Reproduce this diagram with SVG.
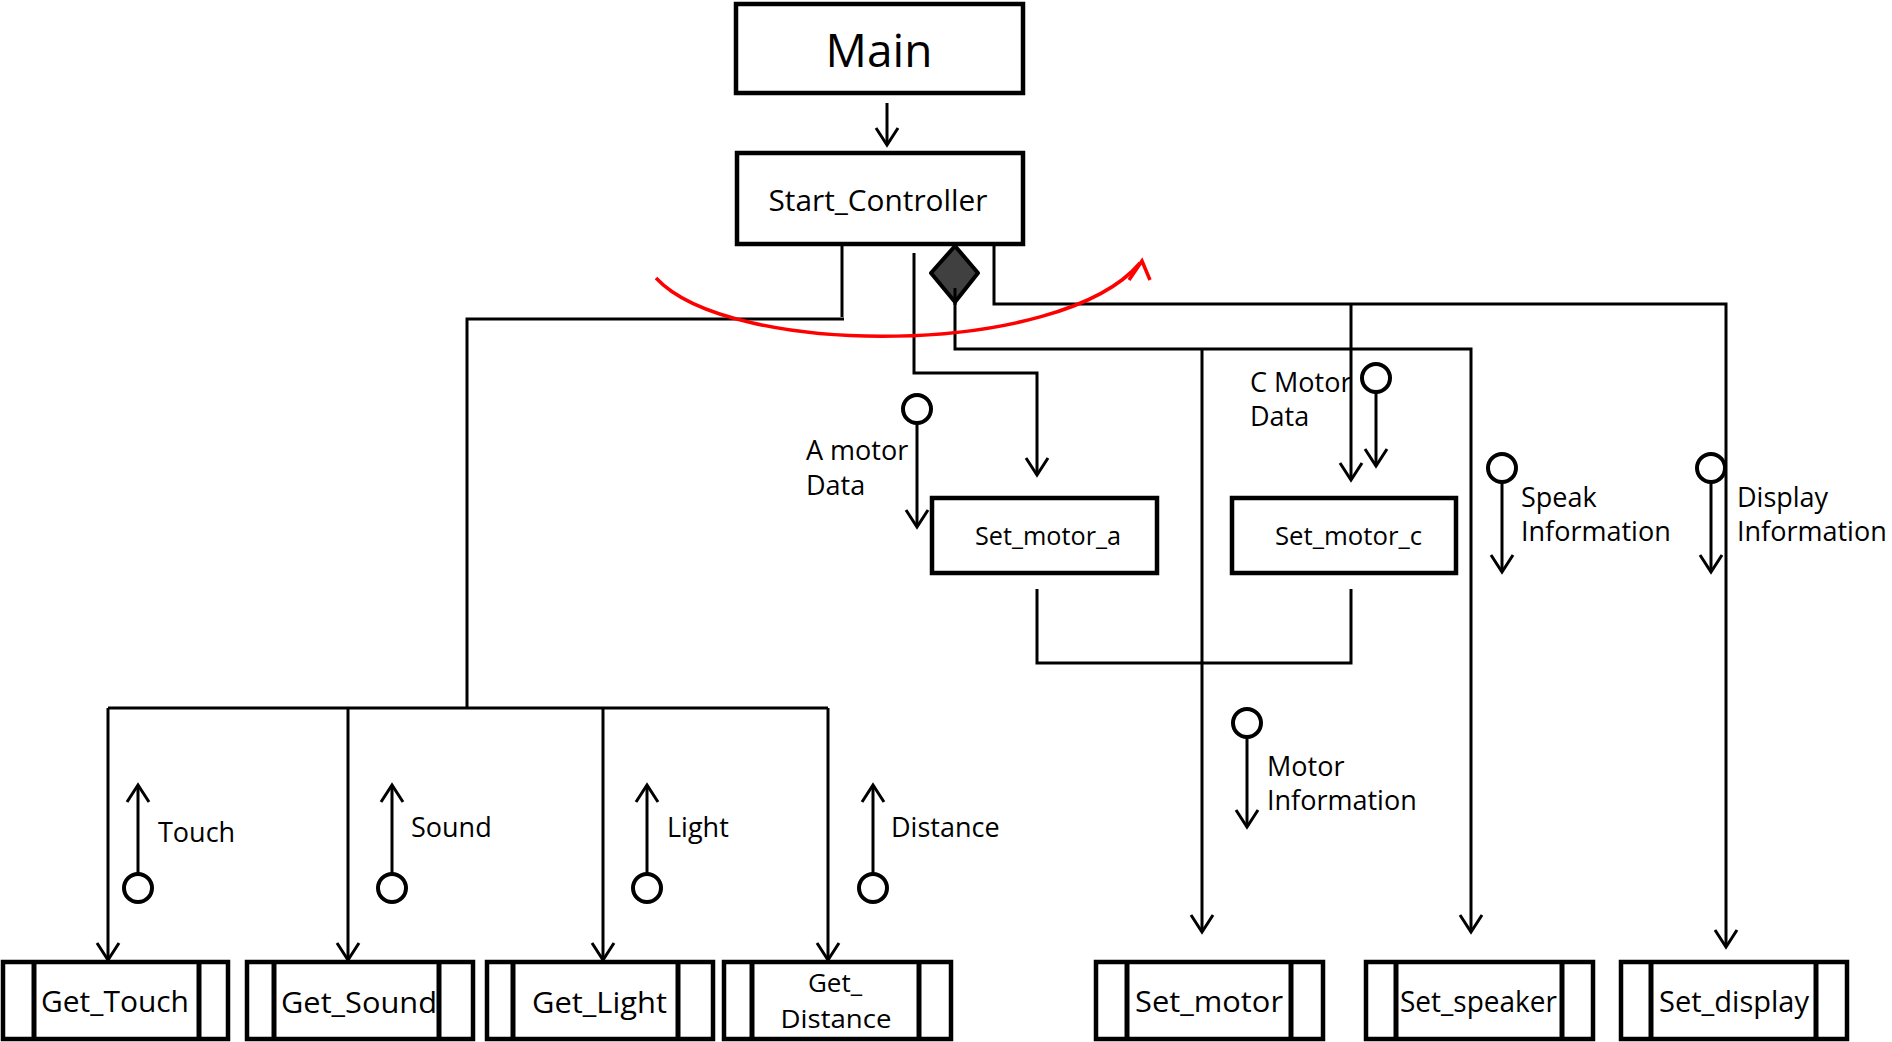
<svg xmlns="http://www.w3.org/2000/svg" width="1892" height="1042" viewBox="0 0 1892 1042">
<defs>
<marker id="ah" markerUnits="userSpaceOnUse" orient="auto" overflow="visible" markerWidth="1" markerHeight="1"><path d="M-17,-11 L0,0 L-17,11" fill="none" stroke="#000" stroke-width="3"/></marker>
</defs>
<style>
.box{fill:#fff;stroke:#000;stroke-width:4.5}
.in{stroke:#000;stroke-width:5}
.ln{fill:none;stroke:#000;stroke-width:3}
.arr{fill:none;stroke:#000;stroke-width:3;marker-end:url(#ah)}
.lol{fill:none;stroke:#000;stroke-width:4}
text{font-family:"Open Sans","Noto Sans","Liberation Sans",sans-serif;fill:#000}
.lab{font-size:27px}
.nm{font-size:30px}
.sm{font-size:25px}
.gd{font-size:26px}
</style>
<rect width="1892" height="1042" fill="#fff"/>
<g id="connectors">
<path class="arr" d="M887,103 V145"/>
<path class="ln" d="M842,245 V317"/>
<path class="ln" d="M844,319 H467 V708"/>
<path class="ln" d="M108,708 H828"/>
<path class="arr" d="M108,708 V960"/>
<path class="arr" d="M348,708 V960"/>
<path class="arr" d="M603,708 V960"/>
<path class="arr" d="M828,708 V960"/>
<path class="arr" d="M914,253 V373 H1037 V475"/>
<path class="arr" d="M955,288 V349 H1471 V932"/>
<path class="arr" d="M1202,349 V932"/>
<path class="arr" d="M994,243 V304 H1726 V947"/>
<path class="arr" d="M1351,304 V480"/>
<path class="ln" d="M1037,589 V663 H1351 V589"/>
<path d="M656,278 C730,358 1060,358 1140,263" fill="none" stroke="#f00" stroke-width="3.5"/>
<path d="M1129,280 L1142,261 L1150,280" fill="none" stroke="#f00" stroke-width="3.5"/>
</g>
<g id="main"><rect class="box" x="736" y="4" width="287" height="89"/><text x="879" y="67" font-size="46" text-anchor="middle">Main</text></g>
<g id="start_controller"><rect class="box" x="737" y="153" width="286" height="91"/><text x="878" y="211" font-size="30" text-anchor="middle" textLength="219" lengthAdjust="spacingAndGlyphs">Start_Controller</text></g>
<g id="diamond"><path d="M955,246 L978,273 L955,302 L931,273 Z" fill="#404040" stroke="#000" stroke-width="4" stroke-linejoin="round"/><path class="ln" d="M955,288 V305"/></g>
<g id="set_motor_a"><rect class="box" x="932" y="498" width="225" height="75"/><text class="sm" x="975" y="545" textLength="146" lengthAdjust="spacingAndGlyphs">Set_motor_a</text></g>
<g id="set_motor_c"><rect class="box" x="1232" y="498" width="224" height="75"/><text class="sm" x="1275" y="545" textLength="147" lengthAdjust="spacingAndGlyphs">Set_motor_c</text></g>
<g id="get_touch"><rect class="box" x="3" y="962" width="225" height="77"/><line class="in" x1="34" y1="962" x2="34" y2="1039"/><line class="in" x1="199" y1="962" x2="199" y2="1039"/><text class="nm" x="41" y="1012" textLength="148" lengthAdjust="spacingAndGlyphs">Get_Touch</text></g>
<g id="get_sound"><rect class="box" x="247" y="962" width="226" height="77"/><line class="in" x1="274" y1="962" x2="274" y2="1039"/><line class="in" x1="439" y1="962" x2="439" y2="1039"/><text class="nm" x="281" y="1013" textLength="156" lengthAdjust="spacingAndGlyphs">Get_Sound</text></g>
<g id="get_light"><rect class="box" x="487" y="962" width="226" height="77"/><line class="in" x1="513" y1="962" x2="513" y2="1039"/><line class="in" x1="678" y1="962" x2="678" y2="1039"/><text class="nm" x="532" y="1013" textLength="135" lengthAdjust="spacingAndGlyphs">Get_Light</text></g>
<g id="get_distance"><rect class="box" x="724" y="962" width="227" height="77"/><line class="in" x1="752" y1="962" x2="752" y2="1039"/><line class="in" x1="919" y1="962" x2="919" y2="1039"/><text class="gd" x="835" y="992" text-anchor="middle">Get_</text><text class="gd" x="836" y="1028" text-anchor="middle" textLength="111" lengthAdjust="spacingAndGlyphs">Distance</text></g>
<g id="set_motor"><rect class="box" x="1096" y="962" width="227" height="77"/><line class="in" x1="1127" y1="962" x2="1127" y2="1039"/><line class="in" x1="1291" y1="962" x2="1291" y2="1039"/><text class="nm" x="1135" y="1012" textLength="148" lengthAdjust="spacingAndGlyphs">Set_motor</text></g>
<g id="set_speaker"><rect class="box" x="1366" y="962" width="227" height="77"/><line class="in" x1="1396" y1="962" x2="1396" y2="1039"/><line class="in" x1="1562" y1="962" x2="1562" y2="1039"/><text class="nm" x="1400" y="1012" textLength="157" lengthAdjust="spacingAndGlyphs">Set_speaker</text></g>
<g id="set_display"><rect class="box" x="1621" y="962" width="226" height="77"/><line class="in" x1="1651" y1="962" x2="1651" y2="1039"/><line class="in" x1="1816" y1="962" x2="1816" y2="1039"/><text class="nm" x="1659" y="1012" textLength="150" lengthAdjust="spacingAndGlyphs">Set_display</text></g>
<g id="flow_touch"><circle class="lol" cx="138" cy="888" r="14"/><path class="arr" d="M138,874 V785"/><text class="lab" x="158" y="842">Touch</text></g>
<g id="flow_sound"><circle class="lol" cx="392" cy="888" r="14"/><path class="arr" d="M392,874 V785"/><text class="lab" x="411" y="837">Sound</text></g>
<g id="flow_light"><circle class="lol" cx="647" cy="888" r="14"/><path class="arr" d="M647,874 V785"/><text class="lab" x="667" y="837">Light</text></g>
<g id="flow_distance"><circle class="lol" cx="873" cy="888" r="14"/><path class="arr" d="M873,874 V785"/><text class="lab" x="891" y="837">Distance</text></g>
<g id="flow_a_motor"><circle class="lol" cx="917" cy="409" r="14"/><path class="arr" d="M917,423 V527"/><text class="lab" x="806" y="460">A motor</text><text class="lab" x="806" y="495">Data</text></g>
<g id="flow_c_motor"><circle class="lol" cx="1376" cy="378" r="14"/><path class="arr" d="M1376,392 V466"/><text class="lab" x="1250" y="392">C Motor</text><text class="lab" x="1250" y="426">Data</text></g>
<g id="flow_speak"><circle class="lol" cx="1502" cy="468" r="14"/><path class="arr" d="M1502,482 V572"/><text class="lab" x="1521" y="507">Speak</text><text class="lab" x="1521" y="541">Information</text></g>
<g id="flow_display"><circle class="lol" cx="1711" cy="468" r="14"/><path class="arr" d="M1711,482 V572"/><text class="lab" x="1737" y="507">Display</text><text class="lab" x="1737" y="541">Information</text></g>
<g id="flow_motor_info"><circle class="lol" cx="1247" cy="723" r="14"/><path class="arr" d="M1247,737 V827"/><text class="lab" x="1267" y="776">Motor</text><text class="lab" x="1267" y="810">Information</text></g>
</svg>
